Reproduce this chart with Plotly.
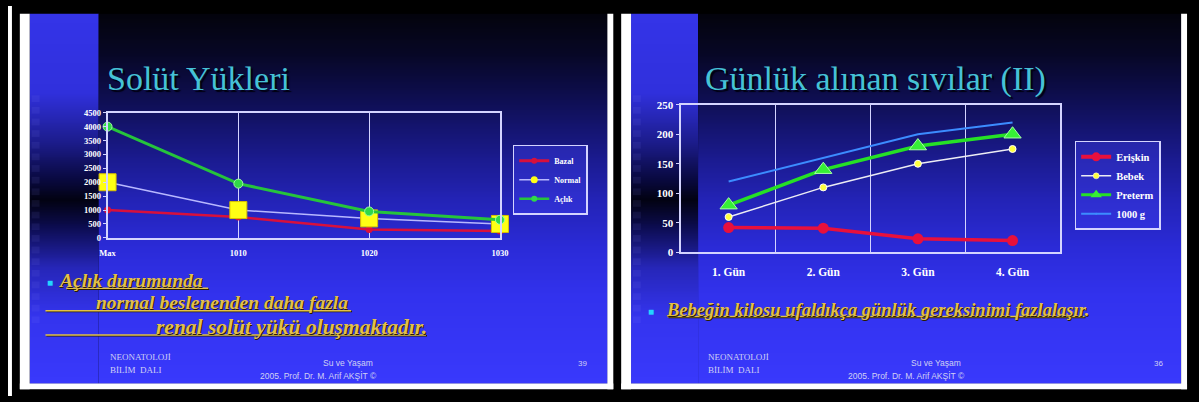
import plotly.graph_objects as go

W, H = 1199, 402

# ---- Solüt yükleri (left slide) ----
solute_cats = ["Max", "1010", "1020", "1030"]
bazal = [1000, 750, 300, 250]
normal = [2000, 1000, 700, 500]
aclik = [4000, 1950, 950, 650]
solute_ticks = [0, 500, 1000, 1500, 2000, 2500, 3000, 3500, 4000, 4500]

# ---- Günlük alınan sıvılar (right slide) ----
days = ["1. Gün", "2. Gün", "3. Gün", "4. Gün"]
eriskin = [42, 41, 23, 20]
bebek = [60, 110, 150, 175]
preterm = [80, 140, 180, 200]
g1000 = [120, 160, 200, 220]
fluid_ticks = [0, 50, 100, 150, 200, 250]

SERIF = "Liberation Serif, Times New Roman, serif"
SANS = "Liberation Sans, Arial, sans-serif"
FRAME = "#d4d4ff"

fig = go.Figure()

# ---------- slide backgrounds (pixel-space subplot) ----------
Y0, Y1 = 8, 389
main_stops = [(8, "#03030c"), (50, "#070726"), (100, "#0f0f55"), (150, "#191988"),
              (200, "#2323b6"), (250, "#2b2bd8"), (300, "#3232ee"), (389, "#3939fc")]
strip_stops = [(8, "#3434e8"), (90, "#3030dc"), (140, "#1c1c8c"), (180, "#08083c"),
               (200, "#020212"), (228, "#0c0c50"), (270, "#2626b8"), (320, "#3434ee"),
               (389, "#3939fc")]


def band(x0, x1, stops):
    edges = list(range(Y0, Y1 + 1))
    z = [[y + 0.5] for y in range(Y0, Y1)]
    cs = [[(y - Y0) / (Y1 - Y0), c] for y, c in stops]
    return go.Heatmap(x=[x0, x1], y=edges, z=z, colorscale=cs, zmin=Y0, zmax=Y1,
                      zsmooth=False, showscale=False, hoverinfo="skip",
                      showlegend=False, xaxis="x", yaxis="y")


for x0, x1, st in [(22, 92, strip_stops), (92, 608, main_stops),
                   (632, 700, strip_stops), (700, 1190, main_stops)]:
    fig.add_trace(band(x0, x1, st))

# ---------- left chart ----------
left = dict(xaxis="x2", yaxis="y2", legend="legend", showlegend=False,
            cliponaxis=False, hoverinfo="skip")
fig.add_trace(go.Scatter(x=solute_cats, y=bazal, mode="lines+markers", name="Bazal",
                         line=dict(color="#d8103c", width=2.5),
                         marker=dict(color="#d8103c", size=7), **left))
fig.add_trace(go.Scatter(x=solute_cats, y=normal, mode="lines+markers", name="Normal",
                         line=dict(color="#b8b8ff", width=1.5),
                         marker=dict(color="#ffff14", size=17, symbol="square",
                                     line=dict(color="#d8c000", width=1)), **left))
fig.add_trace(go.Scatter(x=solute_cats, y=aclik, mode="lines+markers", name="Açlık",
                         line=dict(color="#26c43c", width=3),
                         marker=dict(color="#30d848", size=9,
                                     line=dict(color="#a0ffa0", width=1)), **left))
# legend keys
for nm, lc, lw, mc, ms in [("Bazal", "#d8103c", 3, "#d8103c", 6),
                           ("Normal", "#b8b8ff", 1.5, "#ffff14", 7),
                           ("Açlık", "#26c43c", 2.5, "#30d848", 6)]:
    fig.add_trace(go.Scatter(x=[None], y=[None], mode="lines+markers", name=nm,
                             line=dict(color=lc, width=lw), marker=dict(color=mc, size=ms),
                             xaxis="x2", yaxis="y2", legend="legend", showlegend=True))

# ---------- right chart ----------
right = dict(xaxis="x3", yaxis="y3", legend="legend2", showlegend=False,
             cliponaxis=False, hoverinfo="skip")
fig.add_trace(go.Scatter(x=days, y=g1000, mode="lines", name="1000 g",
                         line=dict(color="#3c8cff", width=2), **right))
fig.add_trace(go.Scatter(x=days, y=bebek, mode="lines+markers", name="Bebek",
                         line=dict(color="#ececf4", width=1.5),
                         marker=dict(color="#ffff40", size=7,
                                     line=dict(color="#ffffff", width=1)), **right))
fig.add_trace(go.Scatter(x=days, y=preterm, mode="lines+markers", name="Preterm",
                         line=dict(color="#26e026", width=3.5),
                         marker=dict(color="#36f036", size=15, symbol="triangle-up",
                                     line=dict(color="#a8ffa8", width=1)), **right))
fig.add_trace(go.Scatter(x=days, y=eriskin, mode="lines+markers", name="Erişkin",
                         line=dict(color="#e8103c", width=3.5),
                         marker=dict(color="#e8103c", size=11), **right))
for nm, lc, lw, mc, ms, sym in [("Erişkin", "#e8103c", 4, "#e8103c", 9, "circle"),
                                ("Bebek", "#ececf4", 1.5, "#ffff40", 6, "circle"),
                                ("Preterm", "#26e026", 3, "#36f036", 10, "triangle-up"),
                                ("1000 g", "#3c8cff", 2, "#3c8cff", 1, "circle")]:
    fig.add_trace(go.Scatter(x=[None], y=[None], mode="lines+markers", name=nm,
                             line=dict(color=lc, width=lw),
                             marker=dict(color=mc, size=ms, symbol=sym,
                                         line=dict(color="#ffffff", width=0.5 if nm == "Bebek" else 0)),
                             xaxis="x3", yaxis="y3", legend="legend2", showlegend=True))


def fx(px):
    return px / W


def fy(py):
    return 1 - py / H


axis_common = dict(showline=True, mirror=True, linecolor=FRAME, linewidth=1.5,
                   zeroline=False, fixedrange=True, color="#ffffff")

fig.update_layout(
    width=W, height=H, margin=dict(l=0, r=0, t=0, b=0),
    paper_bgcolor="#000000", plot_bgcolor="rgba(0,0,0,0)",
    xaxis=dict(domain=[0, 1], range=[0, W], visible=False, fixedrange=True),
    yaxis=dict(domain=[0, 1], range=[H, 0], visible=False, fixedrange=True),
    xaxis2=dict(domain=[fx(101), fx(499)], anchor="y2", type="category", range=[0, 3],
                showgrid=True, gridcolor=FRAME, gridwidth=1, ticks="",
                ticklabelstandoff=6,
                tickfont=dict(family=SERIF, size=8.5, color="#ffffff", weight="bold"),
                **axis_common),
    yaxis2=dict(domain=[fy(239), fy(110)], anchor="x2", range=[0, 4500],
                tickvals=solute_ticks, showgrid=False, ticks="outside", ticklen=3,
                tickcolor=FRAME,
                tickfont=dict(family=SERIF, size=8.5, color="#ffffff", weight="bold"),
                **axis_common),
    xaxis3=dict(domain=[fx(683), fx(1067)], anchor="y3", type="category",
                range=[-0.5, 3.5], tickson="boundaries", showgrid=True, gridcolor=FRAME,
                gridwidth=1, ticks="", ticklabelstandoff=8,
                tickfont=dict(family=SERIF, size=11.5, color="#ffffff", weight="bold"),
                **axis_common),
    yaxis3=dict(domain=[fy(254), fy(101.7)], anchor="x3", range=[0, 250],
                tickvals=fluid_ticks, showgrid=False, ticks="outside", ticklen=4,
                tickcolor=FRAME,
                tickfont=dict(family=SERIF, size=11, color="#ffffff", weight="bold"),
                **axis_common),
    legend=dict(x=fx(512), y=fy(143), xanchor="left", yanchor="top",
                bgcolor="rgba(70,70,255,0.35)", bordercolor=FRAME, borderwidth=1.5,
                font=dict(family=SERIF, size=8, color="#ffffff", weight="bold"),
                tracegroupgap=0, itemwidth=30, itemclick=False, itemdoubleclick=False),
    legend2=dict(x=fx(1082), y=fy(139), xanchor="left", yanchor="top",
                 bgcolor="rgba(70,70,255,0.35)", bordercolor=FRAME, borderwidth=1.5,
                 font=dict(family=SERIF, size=10.5, color="#ffffff", weight="bold"),
                 tracegroupgap=0, itemclick=False, itemdoubleclick=False),
)

shapes = []
# white slide borders
for x0, y0, x1, y1 in [(0, 0, 4, H), (12, 8, 22, 395), (12, 389, 614, 395),
                       (608, 8, 614, 395), (622, 8, 632, 395), (622, 389, 1196, 395),
                       (1190, 8, 1196, 395)]:
    shapes.append(dict(type="rect", xref="x", yref="y", x0=x0, y0=y0, x1=x1, y1=y1,
                       fillcolor="#ffffff", line=dict(width=0), layer="above"))
# decorative squares down the side strip
for sx in (24, 634):
    for k in range(20):
        sy = 92 + 12 * k
        shapes.append(dict(type="rect", xref="x", yref="y", x0=sx, x1=sx + 8,
                           y0=sy, y1=sy + 7, fillcolor="rgba(140,140,255,0.09)",
                           line=dict(width=0), layer="above"))
# underlines of the bullet text
GOLD = "#e2c04a"
for x0, x1, y in [(59, 203, 291), (38, 348, 314), (38, 424, 339), (669, 1092, 320)]:
    shapes.append(dict(type="line", xref="x", yref="y", x0=x0 + 1, x1=x1 + 1, y0=y + 1,
                       y1=y + 1, line=dict(color="#2a1e00", width=1.5), layer="above"))
    shapes.append(dict(type="line", xref="x", yref="y", x0=x0, x1=x1, y0=y, y1=y,
                       line=dict(color=GOLD, width=1.5), layer="above"))
fig.update_layout(shapes=shapes)

ann = []


def text(x, y, s, size, color, family=SERIF, anchor="left", **font_extra):
    ann.append(dict(x=x, y=y, xref="x", yref="y", text=s, showarrow=False,
                    xanchor=anchor, yanchor="middle",
                    font=dict(family=family, size=size, color=color, **font_extra)))


TITLE = "#46c2d6"
text(98, 75, "Solüt Yükleri", 34, TITLE, shadow="2px 2px 1px #000010")
text(705, 75, "Günlük alınan sıvılar (II)", 34, TITLE, shadow="2px 2px 1px #000010")

BULLET = "#24d4ff"
text(43, 285, "■", 10, BULLET, anchor="center")
text(652, 315, "■", 10, BULLET, anchor="center")
body = dict(weight="bold", style="italic", shadow="1px 1px 0px #2a1e00")
text(49, 283, "Açlık durumunda", 19.5, GOLD, **body)
text(87, 306, "normal beslenenden daha fazla", 19.5, GOLD, **body)
text(148, 331, "renal solüt yükü oluşmaktadır.", 21.5, GOLD, **body)
text(665, 313, "Bebeğin kilosu ufaldıkça günlük gereksinimi fazlalaşır.", 18.5, GOLD, **body)

FOOT = "#d0d0f4"
for base, centre in [(101, 315), (708, 911)]:
    text(base, 362, "NEONATOLOJİ", 9, FOOT)
    text(base, 375, "BİLİM  DALI", 9, FOOT)
    text(centre + 30, 368, "Su ve Yaşam", 8.5, FOOT, family=SANS, anchor="center")
    text(centre, 381, "2005. Prof. Dr. M. Arif AKŞİT ©", 8.5, FOOT, family=SANS,
         anchor="center")
text(583, 368, "39", 8, FOOT, family=SANS, anchor="center")
text(1167, 368, "36", 8, FOOT, family=SANS, anchor="center")
fig.update_layout(annotations=ann)

fig.write_html("out.html")
